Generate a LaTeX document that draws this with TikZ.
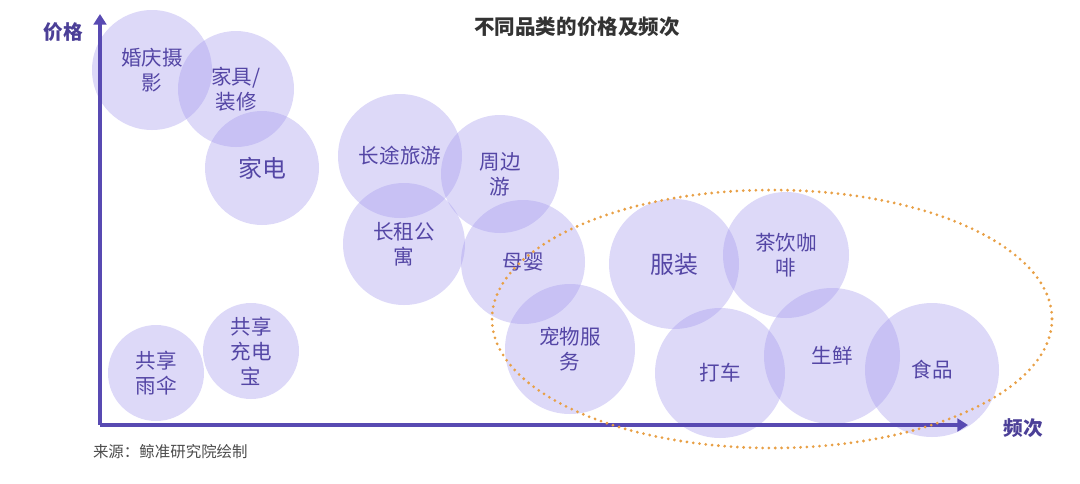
\documentclass[tikz,border=0pt]{standalone}
\usepackage{fontspec}
\setmainfont{Noto Sans CJK SC}
\usetikzlibrary{arrows.meta}

\definecolor{bubblefill}{RGB}{165,155,237}
\definecolor{bubbletext}{RGB}{84,70,165}
\definecolor{axiscol}{RGB}{88,74,178}
\definecolor{ringcol}{RGB}{232,160,70}

\tikzset{every node/.style={inner sep=0pt, outer sep=0pt}}

\begin{document}
\begin{tikzpicture}[x=0.025cm, y=-0.025cm,
		bubble/.style={circle, fill=bubblefill, fill opacity=0.38, text opacity=1,
			text=bubbletext, align=center, minimum size={2*#1*0.025cm},
			font=\fontsize{14.6}{17.8}\selectfont},
		big/.style={font=\fontsize{17}{20}\selectfont},
		axislabel/.style={text=axiscol!85!black, font=\fontsize{14}{16}\selectfont\bfseries}]
		\useasboundingbox (0,0) rectangle (1080,483);
		
		% Draw the bubbles
		\node[bubble=60] (wedding) at (152,70) {婚庆摄\\影};
		\node[bubble=58] (furniture) at (236,89) {家具/\\装修};
		\node[bubble=57, big] (appliance) at (262,168) {家电};
		\node[bubble=62] (longtrip) at (400,156) {长途旅游};
		\node[bubble=59] (nearby) at (500,174) {周边\\游};
		\node[bubble=61] (rental) at (404,244) {长租公\\寓};
		\node[bubble=62] (baby) at (523,262) {母婴};
		\node[bubble=65] (pet) at (570,349) {宠物服\\务};
		\node[bubble=65, big] (clothes) at (674,264) {服装};
		\node[bubble=63] (tea) at (786,255) {茶饮咖\\啡};
		\node[bubble=65] (taxi) at (720,373) {打车};
		\node[bubble=68] (fresh) at (832,356) {生鲜};
		\node[bubble=67] (food) at (932,370) {食品};
		\node[bubble=48] (umbrella) at (156,373) {共享\\雨伞};
		\node[bubble=48] (charger) at (251,351) {共享\\充电\\宝};
		
		% Draw the axes
		\coordinate (O) at (100,425);
		\coordinate (Ytop) at (100,14);
		\coordinate (Xend) at (968,425);
		\draw[axiscol, line width=2.5pt, -{Triangle[length=7.5pt, width=9pt]}] (O) -- (Ytop);
		\draw[axiscol, line width=2.5pt, -{Triangle[length=7.5pt, width=9pt]}] (O) -- (Xend);
		\node[axislabel] (price) at (63,32) {价格};
		\node[axislabel] (freq) at (1023,428) {频次};
		
		% Draw the dotted ring
		\draw[ringcol, line width=2.2pt, line cap=round, dash pattern=on 0pt off 4.5pt]
			(772,319) ellipse [x radius=280, y radius=129];
		
		% Title and source
		\node[text=black!80, font=\fontsize{14.6}{17}\selectfont\bfseries] (title) at (577,27) {不同品类的价格及频次};
		\node[anchor=west, text=black!70, font=\fontsize{11}{13}\selectfont] (source) at (93,452) {来源：鲸准研究院绘制};
		
	\end{tikzpicture}
\end{document}
